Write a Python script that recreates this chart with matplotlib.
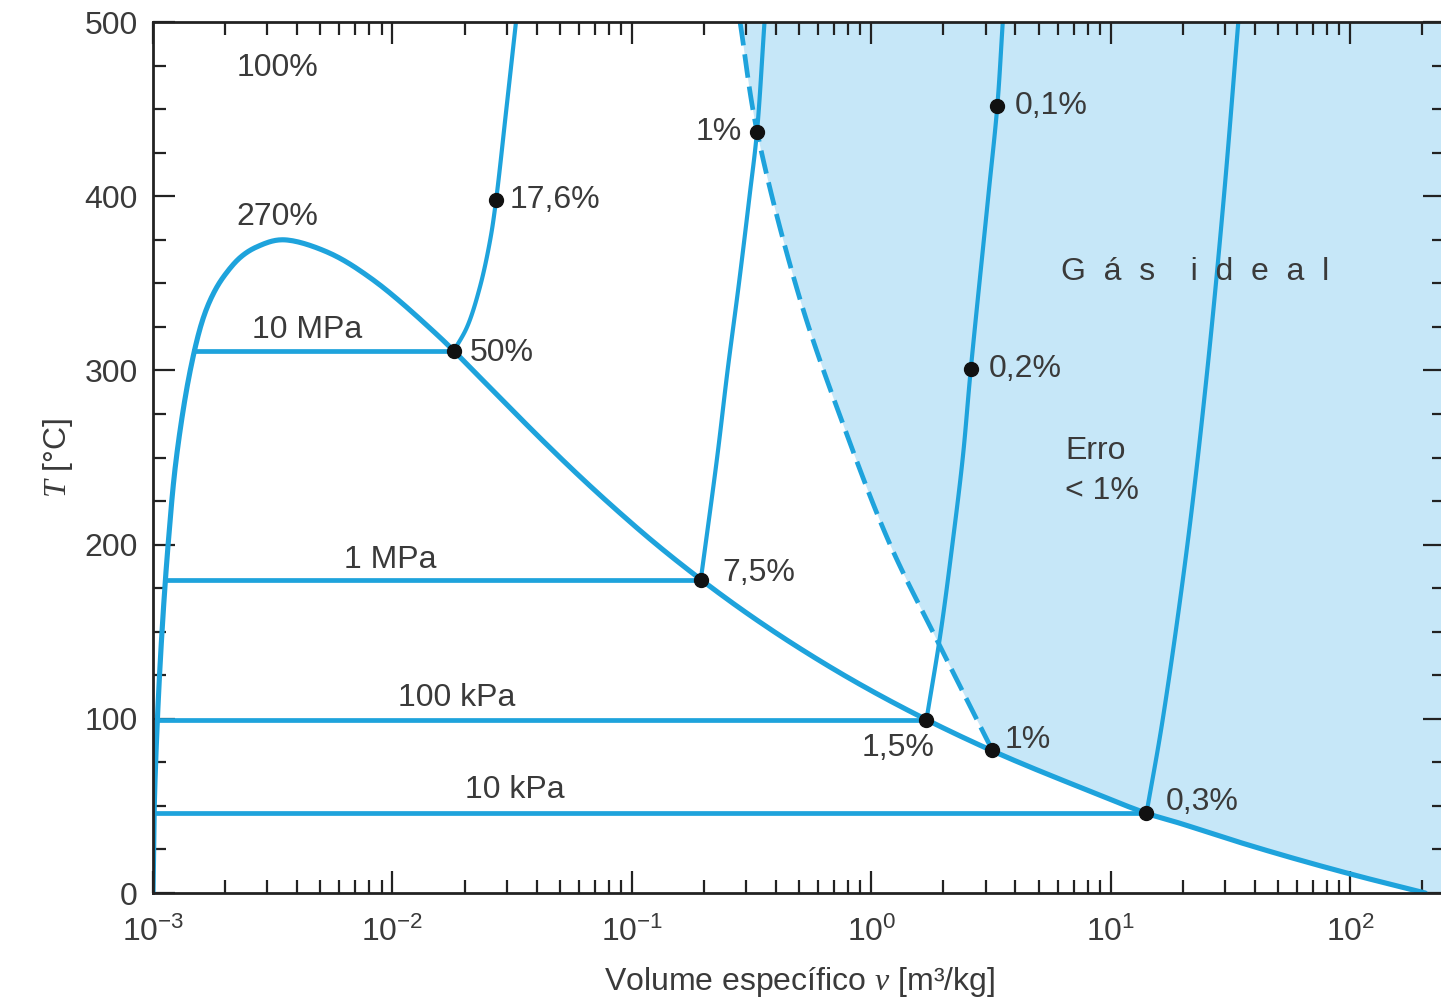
import numpy as np
import matplotlib.pyplot as plt
from matplotlib.ticker import LogLocator, MultipleLocator, NullFormatter

plt.rcParams['font.family'] = ['Liberation Sans', 'DejaVu Sans']
plt.rcParams['mathtext.fontset'] = 'custom'
plt.rcParams['mathtext.rm'] = 'Liberation Sans'
plt.rcParams['mathtext.it'] = 'Liberation Serif:italic'

# saturation dome (liquid side going up, vapour side going down)
liq_T = [0, 50, 100, 150, 200, 250, 300, 330, 345, 355, 365, 371, 375]
liq_v = [0.001000, 0.001012, 0.001043, 0.001090, 0.001156, 0.001252, 0.00143,
         0.00162, 0.00180, 0.00200, 0.00232, 0.00272, 0.00347]
vap_T = [375, 368, 352, 320, 300, 280, 260, 240, 220, 200, 180,
         160, 140, 120, 100, 80, 60, 45.8, 40, 30, 20, 10, 0]
vap_v = [0.00347, 0.00533, 0.0083, 0.0155, 0.0217, 0.0302,
         0.0422, 0.0597, 0.0861, 0.127, 0.194, 0.307, 0.509, 0.891, 1.672,
         3.405, 7.667, 14.1, 19.5, 32.9, 57.8, 106.3, 206.0]

# isobars: saturation temperature, liquid volume, superheated branch
iso_names = ['10 MPa', '1 MPa', '100 kPa', '10 kPa']
iso_Tsat = [311.0, 179.9, 99.6, 45.8]
iso_vliq = [0.00149, 0.00113, 0.00104, 0.00101]
sup_T = [
    [311.0, 325, 348, 375, 398, 450, 500],
    [179.9, 250, 300, 350, 400, 437, 500],
    [99.6, 150, 200, 250, 300, 400, 452, 500],
    [45.8, 100, 200, 300, 400, 500],
]
sup_v = [
    [0.0180, 0.0205, 0.0232, 0.0256, 0.0271, 0.0299, 0.0328],
    [0.194, 0.227, 0.251, 0.280, 0.310, 0.333, 0.358],
    [1.70, 1.95, 2.18, 2.41, 2.60, 3.08, 3.36, 3.54],
    [14.1, 16.5, 20.9, 25.3, 29.7, 34.1],
]

# 1 % error boundary (dashed)
err_T = [500, 437.4, 340.4, 265.8, 199.8, 145.2, 82.0]
err_v = [0.283, 0.333, 0.505, 0.778, 1.20, 1.88, 3.20]

# marked points
pt_v = [0.0180, 0.0271, 0.194, 0.333, 1.70, 2.60, 3.36, 3.20, 14.1]
pt_T = [311.0, 398, 179.9, 437, 99.6, 301, 452, 82.0, 45.8]

blue = '#1ea3dc'
fill_c = '#c6e7f8'
txt_c = '#3a3a3a'
xmax = 249


#centripetal catmull-rom through the read points, in log-v space
def smooth(v, t, n=16):
    P = np.column_stack([np.log10(v) * 239.4, np.array(t, float) * 1.742])
    P = np.vstack([2 * P[0] - P[1], P, 2 * P[-1] - P[-2]])
    out = []
    for i in range(1, len(P) - 2):
        p0, p1, p2, p3 = P[i - 1], P[i], P[i + 1], P[i + 2]
        t0 = 0.0
        t1 = t0 + np.linalg.norm(p1 - p0) ** 0.5
        t2 = t1 + np.linalg.norm(p2 - p1) ** 0.5
        t3 = t2 + np.linalg.norm(p3 - p2) ** 0.5
        s = np.linspace(t1, t2, n, endpoint=False)[:, None]
        a1 = (t1 - s) / (t1 - t0) * p0 + (s - t0) / (t1 - t0) * p1
        a2 = (t2 - s) / (t2 - t1) * p1 + (s - t1) / (t2 - t1) * p2
        a3 = (t3 - s) / (t3 - t2) * p2 + (s - t2) / (t3 - t2) * p3
        b1 = (t2 - s) / (t2 - t0) * a1 + (s - t0) / (t2 - t0) * a2
        b2 = (t3 - s) / (t3 - t1) * a2 + (s - t1) / (t3 - t1) * a3
        out.append((t2 - s) / (t2 - t1) * b1 + (s - t1) / (t2 - t1) * b2)
    out.append(P[-2:-1])
    out = np.vstack(out)
    return 10 ** (out[:, 0] / 239.4), out[:, 1] / 1.742


fig = plt.figure(figsize=(14.41, 10.06), dpi=100)
ax = fig.add_axes([0.1062, 0.1123, 1.0028 - 0.1062, 0.8658])

dome_v, dome_T = smooth(liq_v + vap_v[1:], liq_T + vap_T[1:])
ev, eT = smooth(err_v, err_T)

# ideal gas region (error < 1%)
low = dome_T < err_T[-1]
low &= np.arange(len(dome_T)) > np.argmax(dome_T)
poly_v = list(ev) + list(dome_v[low]) + [xmax, xmax]
poly_T = list(eT) + list(dome_T[low]) + [0, 500]
ax.fill(poly_v, poly_T, color=fill_c, lw=0, zorder=0)

ax.plot(dome_v, dome_T, color=blue, lw=3.7, solid_capstyle='round', zorder=2)

for i in range(len(iso_names)):
    ax.plot([iso_vliq[i], sup_v[i][0]], [iso_Tsat[i], iso_Tsat[i]], color=blue, lw=3.4, zorder=2)
    sv, sT = smooth(sup_v[i], sup_T[i])
    ax.plot(sv, sT, color=blue, lw=3.0, zorder=2)

ax.plot(ev, eT, color=blue, lw=3.4, dashes=(5, 1.9), zorder=2)

ax.plot(pt_v, pt_T, 'o', color='#111111', ms=10, zorder=4)

fs = 23
def lab(s, v, t, ha='center'):
    ax.text(v, t, s, fontsize=fs, color=txt_c, ha=ha, va='center', zorder=5)

lab('100%', 0.0033, 473.6)
lab('270%', 0.0033, 388)
lab('10 MPa', 0.0044, 323)
lab('1 MPa', 0.00977, 191)
lab('100 kPa', 0.0186, 112)
lab('10 kPa', 0.0325, 59)
lab('50%', 0.0211, 310, 'left')
lab('17,6%', 0.031, 398, 'left')
lab('1%', 0.288, 437, 'right')
lab('0,1%', 3.99, 452, 'left')
lab('0,2%', 3.08, 301, 'left')
lab('7,5%', 0.238, 184, 'left')
lab('1,5%', 1.29, 83.2)
lab('1%', 3.62, 87.8, 'left')
lab('0,3%', 16.9, 52, 'left')
lab('Erro', 6.44, 254, 'left')
lab('< 1%', 6.44, 231, 'left')
lab('G  á  s    i  d  e  a  l', 22.5, 356.5)

ax.set_xscale('log')
ax.set_xlim(1e-3, xmax)
ax.set_ylim(0, 500)
ax.xaxis.set_major_locator(LogLocator(base=10, numticks=10))
ax.xaxis.set_minor_locator(LogLocator(base=10, subs=np.arange(2, 10), numticks=20))
ax.xaxis.set_minor_formatter(NullFormatter())
ax.yaxis.set_major_locator(MultipleLocator(100))
ax.yaxis.set_minor_locator(MultipleLocator(25))

ax.tick_params(which='both', direction='in', top=True, right=True,
               colors='#222222', labelcolor=txt_c, labelsize=fs)
ax.tick_params(which='major', length=16, width=1.6)
ax.tick_params(which='minor', length=9.5, width=1.6)
ax.tick_params(axis='x', pad=17)
ax.tick_params(axis='y', pad=11)
for s in ax.spines.values():
    s.set_linewidth(2)
    s.set_color('#222222')

ax.set_xlabel('Volume específico $v$ [m³/kg]', fontsize=fs, color=txt_c, labelpad=12)
ax.set_ylabel('$T$ [°C]', fontsize=fs, color=txt_c, labelpad=7)

fig.savefig('out.png', dpi=100)
